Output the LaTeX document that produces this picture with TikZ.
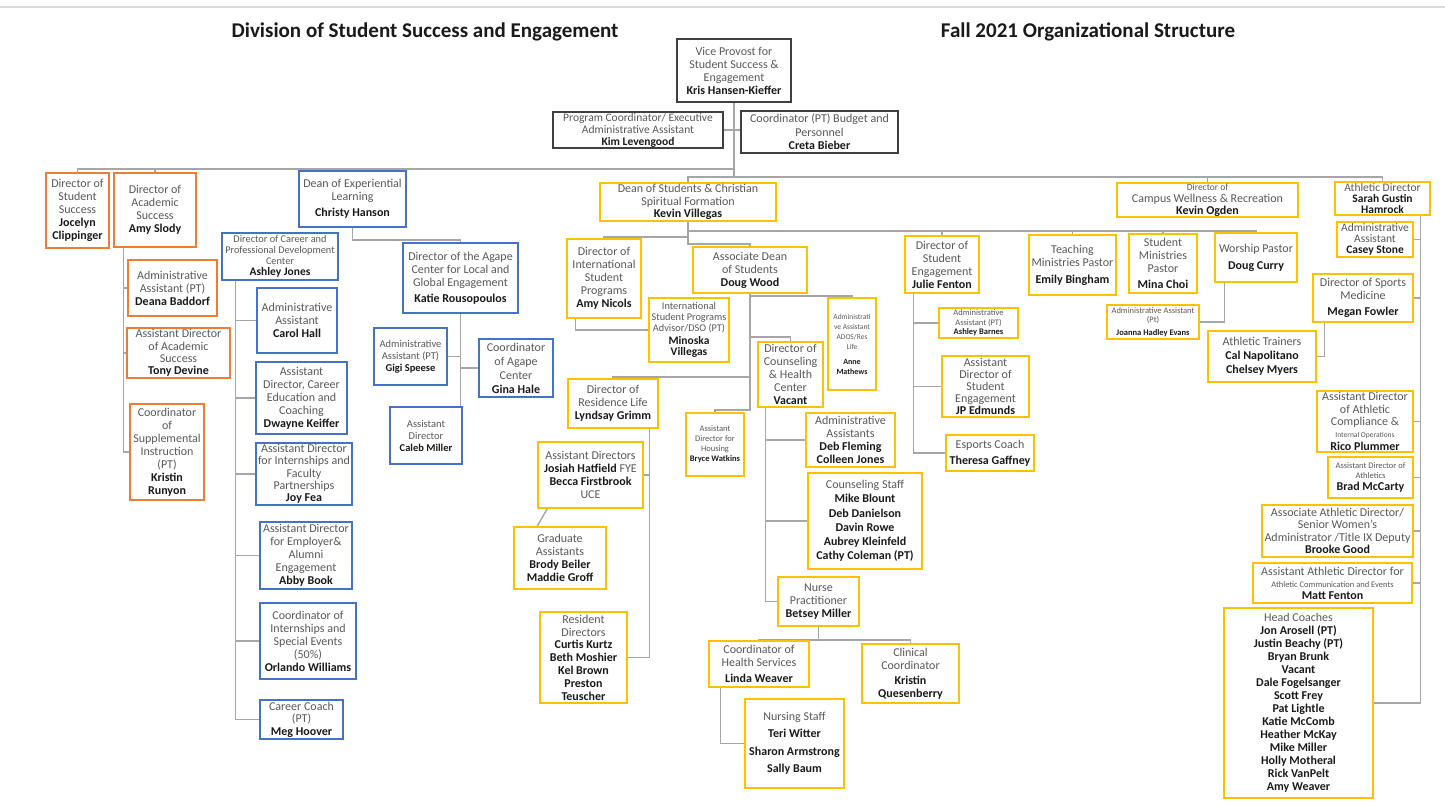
\documentclass[tikz,border=0pt]{standalone}
\usepackage{fontspec}
\setmainfont{Carlito}
\usetikzlibrary{calc,backgrounds}
\definecolor{corange}{HTML}{ED7D31}
\definecolor{cblue}{HTML}{4472C4}
\definecolor{cyellow}{HTML}{FFC000}
\definecolor{cdark}{HTML}{404040}
\definecolor{cline}{HTML}{A6A6A6}
\definecolor{ctitle}{HTML}{595959}
\definecolor{cname}{HTML}{1A1A1A}
\definecolor{crule}{HTML}{D9D9D9}
\newcommand\pname[1]{{\bfseries\color{cname}#1}}
\newcommand\fsz[2]{\fontsize{#1}{#2}\selectfont}
\begin{document}
\begin{tikzpicture}[x=1pt,y=-1pt,
  box/.style n args={2}{draw, line width=1.5pt, fill=white, align=center, inner sep=0.5pt,
     text=ctitle, minimum width=#1pt, minimum height=#2pt, font=\fsz{12}{13}},
  ob/.style n args={2}{box={#1}{#2}, draw=corange},
  bb/.style n args={2}{box={#1}{#2}, draw=cblue},
  yb/.style n args={2}{box={#1}{#2}, draw=cyellow},
  kb/.style n args={2}{box={#1}{#2}, draw=cdark},
  conn/.style={draw=cline, line width=1.4pt},
  headline/.style={font=\fsz{21}{24}\bfseries, text=cname}
]
\useasboundingbox (0,0) rectangle (1445,804);
\begin{scope}[on background layer]
  \fill[white] (0,0) rectangle (1445,804);
\end{scope}
\draw[crule, line width=2.5pt] (0,7) -- (1445,7);

% titles
\node[headline] (t1) at (425,32) {Division of Student Success and Engagement};
\node[headline] (t2) at (1088,32) {Fall 2021 Organizational Structure};

% top
\node[kb={114}{63}] (vp) at (734,70.5) {Vice Provost for\\Student Success \&\\Engagement\\\pname{Kris Hansen-Kieffer}};
\node[kb={170}{36}, font=\fsz{11.5}{12}] (pc) at (638,130) {Program Coordinator/ Executive\\Administrative Assistant\\\pname{Kim Levengood}};
\node[kb={157}{42}, font=\fsz{12}{13.5}] (cb) at (819.5,132) {Coordinator (PT) Budget and\\Personnel\\\pname{Creta Bieber}};

% orange
\node[ob={63}{75}] (dss) at (77.5,210.5) {Director of\\Student\\Success\\\pname{Jocelyn}\\\pname{Clippinger}};
\node[ob={82}{74}] (das) at (155,210) {Director of\\Academic\\Success\\\pname{Amy Slody}};
\node[ob={89}{56}] (deana) at (172.5,288) {Administrative\\Assistant (PT)\\\pname{Deana Baddorf}};
\node[ob={103}{50}, font=\fsz{12}{12.3}, inner sep=0pt] (tony) at (178.5,353) {Assistant Director\\of Academic\\Success\\\pname{Tony Devine}};
\node[ob={74}{96}] (kristinR) at (167,452) {Coordinator\\of\\Supplemental\\Instruction\\(PT)\\\pname{Kristin}\\\pname{Runyon}};

% blue
\node[bb={107}{56}] (del) at (352.5,199) {Dean of Experiential\\Learning\\[3pt]\pname{Christy Hanson}};
\node[bb={116}{47}, font=\fsz{10.3}{11}] (dcp) at (280,256.5) {Director of Career and\\Professional Development\\Center\\\pname{\fsz{11.5}{11}Ashley Jones}};
\node[bb={115}{70}] (agape) at (460.5,278) {Director of the Agape\\Center for Local and\\Global Engagement\\[3pt]\pname{Katie Rousopoulos}};
\node[bb={73}{57}, font=\fsz{10.5}{12}] (gigi) at (410.5,356.5) {Administrative\\Assistant (PT)\\\pname{Gigi Speese}};
\node[bb={74}{58}, font=\fsz{12}{14}] (gina) at (516,368) {Coordinator\\of Agape\\Center\\\pname{Gina Hale}};
\node[bb={72}{57}, font=\fsz{10.5}{12}] (caleb) at (426,435.5) {Assistant\\Director\\\pname{Caleb Miller}};
\node[bb={80}{65}] (carol) at (297,320.5) {Administrative\\Assistant\\\pname{Carol Hall}};
\node[bb={91}{72}] (dwayne) at (301.5,398) {Assistant\\Director, Career\\Education and\\Coaching\\\pname{Dwayne Keiffer}};
\node[bb={96}{62}, font=\fsz{12}{12.3}, inner sep=0pt] (joy) at (304,474) {Assistant Director\\for Internships and\\Faculty\\Partnerships\\\pname{Joy Fea}};
\node[bb={92}{67}] (abby) at (306,555.5) {Assistant Director\\for Employer\&\\Alumni\\Engagement\\\pname{Abby Book}};
\node[bb={96}{76}] (orlando) at (308,641) {Coordinator of\\Internships and\\Special Events\\(50\%)\\\pname{Orlando Williams}};
\node[bb={83}{39}, font=\fsz{12}{12.5}] (meg) at (301.5,719.5) {Career Coach\\(PT)\\\pname{Meg Hoover}};

% yellow: dean of students
\node[yb={176}{38}, font=\fsz{12}{12.5}] (dos) at (688,202) {Dean of Students \& Christian\\Spiritual Formation\\\pname{Kevin Villegas}};
\node[yb={74}{79}] (isp) at (604,278.5) {Director of\\International\\Student\\Programs\\\pname{Amy Nicols}};
\node[yb={80}{64}, font=\fsz{10.3}{11}] (minoska) at (689,330) {International\\Student Programs\\Advisor/DSO (PT)\\[2pt]\pname{\fsz{11.5}{12}Minoska}\\\pname{\fsz{11.5}{12}Villegas}};
\node[yb={114}{46}] (adean) at (750,270) {Associate Dean\\of Students\\\pname{Doug Wood}};
\node[yb={48}{92}, font=\fsz{7.5}{10}] (ados) at (852,344) {Administrati\\ve Assistant\\ADOS/Res\\Life\\[5pt]\pname{\fsz{8}{10}Anne}\\\pname{\fsz{8}{10}Mathews}};
\node[yb={65}{65}, font=\fsz{12}{12.8}, inner sep=0pt] (counsel) at (790.5,374.5) {Director of\\Counseling\\\& Health\\Center\\\pname{Vacant}};
\node[yb={58}{63}, font=\fsz{8.5}{10}] (housing) at (715,444.5) {Assistant\\Director for\\Housing\\\pname{Bryce Watkins}};
\node[yb={90}{49}] (reslife) at (613,403.5) {Director of\\Residence Life\\\pname{Lyndsay Grimm}};
\node[yb={105}{66}] (asstdirs) at (590.5,475) {Assistant Directors\\\pname{Josiah Hatfield} FYE\\\pname{Becca Firstbrook}\\UCE};
\node[yb={92}{62}] (grad) at (560,558) {Graduate\\Assistants\\\pname{Brody Beiler}\\\pname{Maddie Groff}};
\node[yb={87}{91}, font=\fsz{12}{12.8}, inner sep=0pt] (rd) at (583.5,657.5) {Resident\\Directors\\\pname{Curtis Kurtz}\\\pname{Beth Moshier}\\\pname{Kel Brown}\\\pname{Preston}\\\pname{Teuscher}};
\node[yb={89}{54}] (admins) at (850.5,440) {Administrative\\Assistants\\\pname{Deb Fleming}\\\pname{Colleen Jones}};
\node[yb={114}{96}, font=\fsz{12}{14.3}] (cstaff) at (865,521) {Counseling Staff\\\pname{Mike Blount}\\\pname{Deb Danielson}\\\pname{Davin Rowe}\\\pname{Aubrey Kleinfeld}\\\pname{Cathy Coleman (PT)}};
\node[yb={81}{49}] (nurse) at (818.5,601.5) {Nurse\\Practitioner\\\pname{Betsey Miller}};
\node[yb={100}{46}] (linda) at (759,664) {Coordinator of\\Health Services\\[3pt]\pname{Linda Weaver}};
\node[yb={97}{59}] (kq) at (910.5,673.5) {Clinical\\Coordinator\\[2pt]\pname{Kristin}\\\pname{Quesenberry}};
\node[yb={99}{89}, font=\fsz{12}{17.5}] (nstaff) at (794.5,743.5) {Nursing Staff\\\pname{Teri Witter}\\\pname{Sharon Armstrong}\\\pname{Sally Baum}};

% yellow: engagement / ministries
\node[yb={74}{57}] (dse) at (942,264.5) {Director of\\Student\\Engagement\\\pname{Julie Fenton}};
\node[yb={87}{60}] (teach) at (1072.5,265) {Teaching\\Ministries Pastor\\[4pt]\pname{Emily Bingham}};
\node[yb={68}{59}] (smin) at (1163,263.5) {Student\\Ministries\\Pastor\\[3pt]\pname{Mina Choi}};
\node[yb={82}{49}] (worship) at (1256,257.5) {Worship Pastor\\[4pt]\pname{Doug Curry}};
\node[yb={92}{34}, font=\fsz{8.5}{9.5}] (joanna) at (1153,322) {Administrative Assistant\\(Pt)\\[3pt]\pname{Joanna Hadley Evans}};
\node[yb={79}{30}, font=\fsz{8.5}{9.3}] (ashley) at (978.5,323) {Administrative\\Assistant (PT)\\\pname{Ashley Barnes}};
\node[yb={87}{61}, font=\fsz{12}{12.2}, inner sep=0pt] (jp) at (985.5,386.5) {Assistant\\Director of\\Student\\Engagement\\\pname{JP Edmunds}};
\node[yb={88}{36}, font=\fsz{12}{16}] (theresa) at (990,453) {Esports Coach\\\pname{Theresa Gaffney}};

% athletics & wellness
\node[yb={181}{34}, font=\fsz{12}{12}] (cw) at (1207.5,200) {{\fsz{9.5}{10}Director of}\\Campus Wellness \& Recreation\\\pname{Kevin Ogden}};
\node[yb={95}{33}, font=\fsz{11.5}{10.8}, inner sep=0pt] (ad) at (1382.5,198.5) {Athletic Director\\\pname{Sarah Gustin}\\\pname{Hamrock}};
\node[yb={76}{35}, font=\fsz{11.5}{11}, inner sep=0pt] (casey) at (1375,239.5) {Administrative\\Assistant\\\pname{Casey Stone}};
\node[yb={100}{48}] (megan) at (1363,298) {Director of Sports\\Medicine\\[3pt]\pname{Megan Fowler}};
\node[yb={108}{51}, font=\fsz{12}{14}] (trainers) at (1262,356.5) {Athletic Trainers\\\pname{Cal Napolitano}\\\pname{Chelsey Myers}};
\node[yb={96}{61}, font=\fsz{12}{12.3}, inner sep=0pt] (rico) at (1365,421.5) {Assistant Director\\of Athletic\\Compliance \&\\{\fsz{7.5}{9}Internal Operations}\\\pname{Rico Plummer}};
\node[yb={85}{41}, font=\fsz{8.5}{10}] (brad) at (1370.5,477.5) {Assistant Director of\\Athletics\\[2pt]\pname{\fsz{12}{13}Brad McCarty}};
\node[yb={151}{52}, font=\fsz{12}{12.5}, inner sep=0pt] (brooke) at (1337.5,531) {Associate Athletic Director/\\Senior Women's\\Administrator /Title IX Deputy\\\pname{Brooke Good}};
\node[yb={159}{40}, font=\fsz{12}{12}] (matt) at (1332.5,583) {Assistant Athletic Director for\\{\fsz{8.5}{9}Athletic Communication and Events}\\\pname{Matt Fenton}};
\node[yb={149}{190}] (coaches) at (1298.5,703) {Head Coaches\\\pname{Jon Arosell (PT)}\\\pname{Justin Beachy (PT)}\\\pname{Bryan Brunk}\\\pname{Vacant}\\\pname{Dale Fogelsanger}\\\pname{Scott Frey}\\\pname{Pat Lightle}\\\pname{Katie McComb}\\\pname{Heather McKay}\\\pname{Mike Miller}\\\pname{Holly Motheral}\\\pname{Rick VanPelt}\\\pname{Amy Weaver}};

% bus coordinates
\coordinate (b169) at (0,169);
\coordinate (b177) at (0,177);
\coordinate (b231) at (0,231);
\coordinate (b237) at (0,237);
\coordinate (b240) at (0,240);
\coordinate (b244) at (0,244);
\coordinate (b296) at (0,296);
\coordinate (b337) at (0,337);
\coordinate (b377) at (0,377);
\coordinate (b410) at (0,410);
\coordinate (b640) at (0,640);
\coordinate (dasx) at ($(das.south west)+(10,0)$);
\coordinate (dcpx) at ($(dcp.south west)+(14,0)$);
\coordinate (ispx) at ($(isp.south west)+(9,0)$);
\coordinate (rlx) at ($(reslife.south east)+(-9,0)$);
\coordinate (cox) at ($(counsel.south west)+(8,0)$);
\coordinate (lix) at ($(linda.south west)+(12,0)$);
\coordinate (dsex) at ($(dse.south west)+(9,0)$);
\coordinate (wsx) at ($(worship.south west)+(10,0)$);
\coordinate (adx) at ($(ad.south east)+(-10,0)$);
\coordinate (mgx) at ($(megan.south west)+(12,0)$);
\coordinate (adtop) at ($(asstdirs.south west)+(10,0)$);
\coordinate (grtop) at ($(grad.north west)+(24,0)$);

\begin{scope}[on background layer]
% top level
\draw[conn] (vp.south) -- (vp.south |- b177);
\draw[conn] (pc.east) -- (pc.east -| cb.west);
\draw[conn] (dss.north) -- (dss.north |- b169) -- (vp.south |- b169);
\draw[conn] (das.north) -- (das.north |- b169);
\draw[conn] (del.north) -- (del.north |- b169);
\draw[conn] (dos.north) -- (dos.north |- b177) -- (ad.north |- b177) -- (ad.north);
\draw[conn] (cw.north) -- (cw.north |- b177);
% academic success
\draw[conn] (dasx) |- (kristinR.west);
\draw[conn] (deana.west) -- (deana.west -| dasx);
\draw[conn] (tony.west) -- (tony.west -| dasx);
% experiential learning
\draw[conn] (del.south) |- (b240 -| agape.north) -- (agape.north);
\draw[conn] (dcpx) |- (meg.west);
\foreach \n in {carol,dwayne,joy,abby,orlando} \draw[conn] (\n.west) -- (\n.west -| dcpx);
\draw[conn] (agape.south) -- (agape.south |- caleb.north);
\draw[conn] (gigi.east) -- (gigi.east -| agape.south);
\draw[conn] (gina.west) -- (gina.west -| agape.south);
% dean of students
\draw[conn] (dos.south) -- (dos.south |- b244) -| (adean.north);
\draw[conn] (isp.north) |- (dos.south |- b237);
\draw[conn] (dos.south |- b231) -| (worship.north);
\foreach \n in {dse,teach,smin} \draw[conn] (\n.north) -- (\n.north |- b231);
\draw[conn] (ispx) |- (minoska.west);
% associate dean
\draw[conn] (adean.south) -- (adean.south |- b410) -| (housing.north);
\draw[conn] (adean.south |- b296) -| (ados.north);
\draw[conn] (adean.south |- b337) -| (counsel.north);
\draw[conn] (adean.south |- b377) -| (reslife.north);
% residence life
\draw[conn] (rlx) |- (rd.east);
\draw[conn] (asstdirs.east) -- (asstdirs.east -| rlx);
\draw[conn] (adtop) -- (grtop);
% counseling
\draw[conn] (cox) |- (nurse.west);
\draw[conn] (admins.west) -- (admins.west -| cox);
\draw[conn] (cstaff.west) -- (cstaff.west -| cox);
\draw[conn] (nurse.south) -- (nurse.south |- b640);
\draw[conn] (linda.north) |- (kq.north |- b640) -- (kq.north);
\draw[conn] (lix) |- (nstaff.west);
% student engagement
\draw[conn] (dsex) |- (theresa.west);
\draw[conn] (ashley.west) -- (ashley.west -| dsex);
\draw[conn] (jp.west) -- (jp.west -| dsex);
\draw[conn] (wsx) |- (joanna.east);
% athletics
\draw[conn] (adx) |- (coaches.east);
\foreach \n in {casey,megan,rico,brad,brooke,matt} \draw[conn] (\n.east) -- (\n.east -| adx);
\draw[conn] (mgx) |- (trainers.east);
\end{scope}
\end{tikzpicture}
\end{document}
